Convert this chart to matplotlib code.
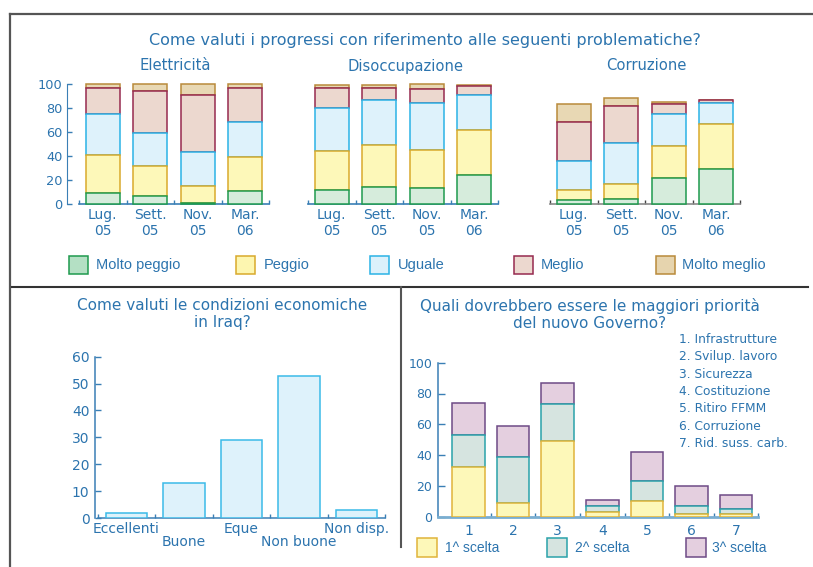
import numpy as np
import matplotlib
matplotlib.use('Agg')
import matplotlib.pyplot as plt
from matplotlib.patches import Rectangle
from matplotlib.lines import Line2D

plt.rcParams['font.family'] = 'DejaVu Sans'

# --- dati ---
periodi = ['Lug.\n05', 'Sett.\n05', 'Nov.\n05', 'Mar.\n06']
giudizi = ['Molto peggio', 'Peggio', 'Uguale', 'Meglio', 'Molto meglio']

# righe: Molto peggio, Peggio, Uguale, Meglio, Molto meglio
elettricita = [
    [9, 7, 1, 11],
    [32, 25, 14, 28],
    [34, 27, 28, 29],
    [22, 35, 48, 29],
    [3, 6, 9, 3],
]
disoccupazione = [
    [12, 14, 13, 24],
    [32, 35, 32, 38],
    [36, 38, 39, 29],
    [17, 10, 12, 7],
    [2, 2, 4, 1],
]
corruzione = [
    [3, 4, 22, 29],
    [9, 13, 26, 38],
    [24, 34, 27, 17],
    [32, 31, 8, 3],
    [15, 6, 2, 0],
]

condizioni = ['Eccellenti', 'Buone', 'Eque', 'Non buone', 'Non disp.']
condizioni_val = [2, 13, 29, 53, 3]

priorita = ['1', '2', '3', '4', '5', '6', '7']
priorita_nomi = ['1. Infrastrutture', '2. Svilup. lavoro', '3. Sicurezza',
                 '4. Costituzione', '5. Ritiro FFMM', '6. Corruzione',
                 '7. Rid. suss. carb.']
scelte = ['1^ scelta', '2^ scelta', '3^ scelta']
scelta_1 = [32, 9, 49, 3, 10, 2, 2]
scelta_2 = [21, 30, 24, 4, 13, 5, 3]
scelta_3 = [21, 20, 14, 4, 19, 13, 9]

# --- stile ---
BLU = '#2c74ae'
ASSE = '#3a7fb5'
facce = ['#d6ecdc', '#fdf8b9', '#def2fb', '#ecd8cf', '#e8d8b4']
bordi = ['#1f9a4e', '#d9aa2c', '#2bb3e6', '#962a4f', '#b98a3b']
facce_leg = ['#b4e0c4', '#fdf6b0', '#dcf1fb', '#ecd8cf', '#e6d4ae']
facce_sc = ['#fdf8b9', '#d6e4e0', '#e4cfdf']
bordi_sc = ['#e0b43a', '#2aa2aa', '#6e4a86']

W, H = 813, 567
fig = plt.figure(figsize=(W / 100, H / 100), dpi=100)


def box(l, t, r, b):
    return [l / W, 1 - b / H, (r - l) / W, (b - t) / H]


def fig_text(x, y, s, **kw):
    kw.setdefault('color', BLU)
    fig.text(x / W, 1 - y / H, s, **kw)


def fig_line(xs, ys, **kw):
    fig.add_artist(Line2D([x / W for x in xs], [1 - y / H for y in ys],
                          transform=fig.transFigure, **kw))


def fig_rect(l, t, w, h, **kw):
    fig.add_artist(Rectangle((l / W, 1 - (t + h) / H), w / W, h / H,
                             transform=fig.transFigure, **kw))


def pulisci(ax):
    for s in ['top', 'right']:
        ax.spines[s].set_visible(False)
    ax.set_facecolor('none')


def barre_impilate(ax, dati, col_asse, col_tick):
    x = np.arange(len(periodi))
    base = np.zeros(len(periodi))
    for i, (valori, fc, ec) in enumerate(zip(dati, facce, bordi)):
        ax.bar(x, valori, 0.72, bottom=base, color=fc, edgecolor=ec,
               linewidth=1.1, zorder=10 - i, clip_on=False)
        base += np.array(valori)
    pulisci(ax)
    ax.set_xlim(-0.5, 3.5)
    ax.set_ylim(0, 100)
    ax.spines['bottom'].set_color(col_asse)
    ax.spines['bottom'].set_linewidth(1.2)
    ax.set_xticks(x)
    ax.set_xticklabels(periodi, fontsize=10, color=BLU)
    ax.set_xticks(np.arange(-0.5, 4, 1), minor=True)
    ax.tick_params(axis='x', which='major', length=0, pad=3)
    ax.tick_params(axis='x', which='minor', direction='in', length=3,
                   width=1, color=col_tick)


# --- in alto: tre grafici a barre impilate ---
ax1 = fig.add_axes(box(79, 84, 269, 204))
barre_impilate(ax1, elettricita, ASSE, ASSE)
ax1.spines['left'].set_position(('outward', 8.5))
ax1.spines['left'].set_color(ASSE)
ax1.set_yticks(range(0, 101, 20))
ax1.tick_params(axis='y', direction='in', length=3.5, width=1, color=ASSE,
                labelsize=9.3, labelcolor=BLU, pad=3.5)

ax2 = fig.add_axes(box(308, 84, 498, 204))
barre_impilate(ax2, disoccupazione, ASSE, ASSE)
ax2.spines['left'].set_visible(False)
ax2.set_yticks([])

ax3 = fig.add_axes(box(550, 84, 740, 204))
barre_impilate(ax3, corruzione, '#8a8a8a', '#444444')
ax3.spines['left'].set_visible(False)
ax3.set_yticks([])

fig_text(425, 40, 'Come valuti i progressi con riferimento alle seguenti problematiche?',
         fontsize=11.5, ha='center', va='center')
for xc, titolo in [(175, 'Elettricità'), (405, 'Disoccupazione'), (646, 'Corruzione')]:
    fig_text(xc, 66, titolo, fontsize=10.6, ha='center', va='center')

# legenda giudizi
for xq, xt, nome, fc, ec in zip([69, 236, 370, 514, 656], [96, 264, 398, 541, 682],
                                 giudizi, facce_leg, bordi):
    fig_rect(xq, 256, 19, 18, facecolor=fc, edgecolor=ec, linewidth=1.1)
    fig_text(xt, 265.5, nome, fontsize=10.5, family='Liberation Sans',
             ha='left', va='center')

# cornice e separatori
fig_line([10, 813], [14, 14], color='#555555', linewidth=1.6)
fig_line([10, 10], [14, 567], color='#555555', linewidth=1.6)
fig_line([12, 808], [287, 287], color='#333333', linewidth=1.5)
fig_line([401, 401], [287, 547], color='#555555', linewidth=1.5)

# --- in basso a sinistra: condizioni economiche ---
ax4 = fig.add_axes(box(97.75, 356.7, 385.25, 518))
x4 = np.arange(len(condizioni))
ax4.bar(x4, condizioni_val, 0.73, color='#def2fb', edgecolor='#3bbbe8',
        linewidth=1.1, zorder=3)
pulisci(ax4)
ax4.set_xlim(-0.5, 4.5)
ax4.set_ylim(0, 60)
for s in ['left', 'bottom']:
    ax4.spines[s].set_color(ASSE)
    ax4.spines[s].set_linewidth(1.1)
ax4.spines['left'].set_position(('outward', 2))
ax4.set_yticks(range(0, 61, 10))
ax4.tick_params(axis='y', direction='in', length=4.5, width=1, color=ASSE,
                labelsize=10, labelcolor=BLU, pad=4)
ax4.set_xticks([])
ax4.set_xticks(np.arange(-0.5, 5, 1), minor=True)
ax4.tick_params(axis='x', which='minor', direction='in', length=3,
                width=1, color=ASSE)
for i, nome in enumerate(condizioni):
    scarto = -8 if i % 2 == 0 else -17.5
    ax4.annotate(nome, xy=(i, 0), xycoords=('data', 'axes fraction'),
                 xytext=(0, scarto), textcoords='offset points',
                 ha='center', va='center', fontsize=10, color=BLU)
fig_text(222, 314, 'Come valuti le condizioni economiche\nin Iraq?',
         fontsize=11, ha='center', va='center', linespacing=1.15)

# --- in basso a destra: priorità del governo ---
ax5 = fig.add_axes(box(438, 362.7, 758.4, 516.7))
x5 = np.arange(1, len(priorita) + 1)
base = np.zeros(len(priorita))
for i, (valori, fc, ec) in enumerate(zip([scelta_1, scelta_2, scelta_3],
                                          facce_sc, bordi_sc)):
    ax5.bar(x5, valori, 0.73, bottom=base, color=fc, edgecolor=ec,
            linewidth=1.1, zorder=10 - i)
    base += np.array(valori)
pulisci(ax5)
ax5.set_xlim(0.316, 7.5)
ax5.set_ylim(0, 100)
ax5.spines['left'].set_color(ASSE)
ax5.spines['left'].set_linewidth(1.1)
ax5.spines['bottom'].set_color('#7aaed0')
ax5.spines['bottom'].set_linewidth(2)
ax5.set_yticks(range(0, 101, 20))
ax5.tick_params(axis='y', direction='in', length=5, width=1, color=ASSE,
                labelsize=9, labelcolor=BLU, pad=4)
ax5.set_xticks(x5)
ax5.set_xticklabels(priorita, fontsize=10, color=BLU)
ax5.set_xticks(np.arange(1.5, 8, 1), minor=True)
ax5.tick_params(axis='x', which='major', length=0, pad=5)
ax5.tick_params(axis='x', which='minor', direction='in', length=3,
                width=1, color=ASSE)
fig_text(590, 314.4, 'Quali dovrebbero essere le maggiori priorità\ndel nuovo Governo?',
         fontsize=11, ha='center', va='center', linespacing=1.15)
for i, nome in enumerate(priorita_nomi):
    fig_text(679, 339.3 + i * 17.35, nome, fontsize=8.8, ha='left', va='center')

# legenda scelte
for xq, xt, nome, fc, ec in zip([417, 547, 686], [445, 575, 712],
                                 scelte, facce_sc, bordi_sc):
    fig_rect(xq, 538, 20, 19, facecolor=fc, edgecolor=ec, linewidth=1.1)
    fig_text(xt, 548, nome, fontsize=10, family='Liberation Sans',
             ha='left', va='center')

fig.savefig('out.png', dpi=100)
